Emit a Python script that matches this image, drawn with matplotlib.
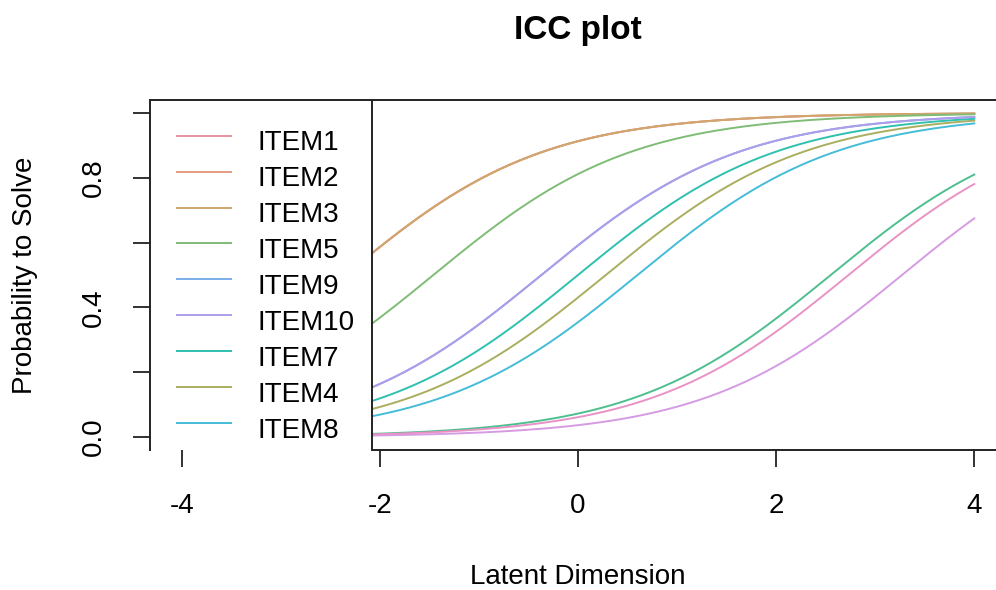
import numpy as np
import matplotlib
matplotlib.use('Agg')
import matplotlib.pyplot as plt
from matplotlib.patches import Rectangle

plt.rcParams['font.family'] = ['Liberation Sans', 'DejaVu Sans']

# item difficulties (Rasch beta) (P = 0.5 point)
items = ['ITEM1', 'ITEM2', 'ITEM3', 'ITEM4', 'ITEM5', 'ITEM6',
         'ITEM7', 'ITEM8', 'ITEM9', 'ITEM10', 'ITEM11', 'ITEM12']
difficulty = [-2.35, -2.35, -2.35, 0.28, -1.46, 2.55,
              0.0, 0.6, -0.37, -0.37, 3.27, 2.73]
colors = ['#E8939F', '#E59C83', '#D0A66C', '#AAAE5E', '#7FBC76', '#4DBF8F',
          '#2FC0B0', '#45BCD8', '#7AAEE8', '#AE9DEB', '#D59BE3', '#E892C6']

xticks = [-4, -2, 0, 2, 4]
yticks = [0.0, 0.2, 0.4, 0.6, 0.8, 1.0]

theta = np.linspace(-4, 4, 161)

fig = plt.figure(figsize=(9.96, 5.9), dpi=100)
W, H = 996, 590
ax = fig.add_axes([150 / W, 140 / H, 856 / W, 350 / H])

for name, b, c in zip(items, difficulty, colors):
    p = 1 / (1 + np.exp(-(theta - b)))
    ax.plot(theta, p, color=c, lw=1.4, zorder=2)

ax.set_xlim(-4.32, 4.32)
ax.set_ylim(-0.04, 1.04)

for s in ax.spines.values():
    s.set_linewidth(1.4)
    s.set_color('#222222')

# legend box (left), clipped by the plot region like in R
leg_right = 222 / 856
ax.spines['bottom'].set_bounds(-4.32 + leg_right * 8.64, 4.32)
ax.add_patch(Rectangle((0, -0.5), leg_right, 1.5, transform=ax.transAxes,
                       facecolor='white', edgecolor='#222222', lw=1.4,
                       zorder=3, clip_on=True))
order = np.argsort(difficulty, kind='stable')
for k, i in enumerate(order):
    yl = (450 - (135.7 + 35.9 * k)) / 350
    yb = (450 - (150.5 + 35.9 * k)) / 350
    ax.plot([27 / 856, 81 / 856], [yl, yl], transform=ax.transAxes,
            color=colors[i], lw=1.4, zorder=4, clip_on=True)
    ax.text(107 / 856, yb, items[i], transform=ax.transAxes, fontsize=20,
            va='baseline', ha='left', zorder=4, clip_on=True)

ax.set_xticks(xticks)
ax.set_xticklabels([str(v) for v in xticks])
ax.set_yticks(yticks)
ax.set_yticklabels([f'{v:.1f}' if i % 2 == 0 else '' for i, v in enumerate(yticks)])
ax.tick_params(direction='out', length=12, width=1.3, labelsize=20, pad=19,
               color='#222222')
for lab in ax.get_yticklabels():
    lab.set_rotation(90)
    lab.set_va('center')

fig.text(578 / W, 1 - 30 / H, 'ICC plot', fontsize=24, fontweight='bold',
         ha='center', va='center')
fig.text(578 / W, 1 - 577 / H, 'Latent Dimension', fontsize=20,
         ha='center', va='center')
fig.text(25 / W, 1 - 275 / H, 'Probability to Solve', fontsize=20,
         rotation=90, ha='center', va='center')

fig.savefig('out.png', dpi=100)
